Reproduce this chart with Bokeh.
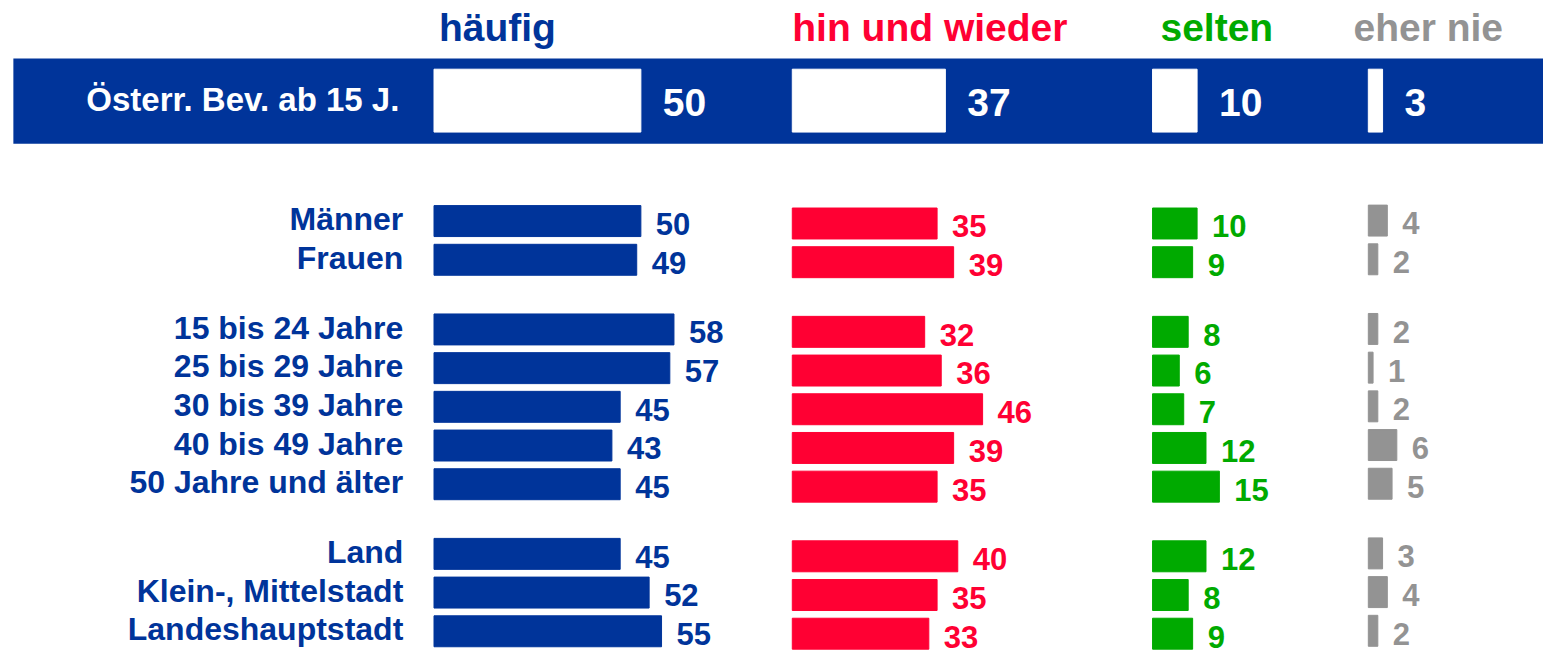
from bokeh.plotting import figure
from bokeh.models import Range1d, BoxAnnotation, ColumnDataSource
from bokeh.core.properties import value
from bokeh.embed import file_html
from bokeh.resources import INLINE

# ---------------- data ----------------
columns = ["häufig", "hin und wieder", "selten", "eher nie"]
total_label = "Österr. Bev. ab 15 J."
total = [50, 37, 10, 3]
categories = ["Männer", "Frauen",
              "15 bis 24 Jahre", "25 bis 29 Jahre", "30 bis 39 Jahre",
              "40 bis 49 Jahre", "50 Jahre und älter",
              "Land", "Klein-, Mittelstadt", "Landeshauptstadt"]
groups = [0, 0, 1, 1, 1, 1, 1, 2, 2, 2]
haeufig = [50, 49, 58, 57, 45, 43, 45, 45, 52, 55]
hin_und_wieder = [35, 39, 32, 36, 46, 39, 35, 40, 35, 33]
selten = [10, 9, 8, 6, 7, 12, 15, 12, 8, 9]
eher_nie = [4, 2, 2, 1, 2, 6, 5, 3, 4, 2]
series = [haeufig, hin_und_wieder, selten, eher_nie]
colors = ["#00349A", "#FF0033", "#00AA00", "#939393"]
banner_color = "#00349A"

# ---------------- layout (reference pixel space) ----------------
W, H = 1543, 654
RW, RH = 1559, 676
ROW0, PITCH, GAP = 228, 40, 32
col_start = [438, 800, 1164, 1382]
col_scale = [4.18, 4.18, 4.5, 4.8]
bar_dy = [0, 2.5, 2.5, -0.5]
header_x = [443, 800, 1172, 1367]
FONT = value("Liberation Sans")

rows_y = [ROW0 + i * PITCH + g * GAP for i, g in enumerate(groups)]

p = figure(width=W, height=H, output_backend="svg", toolbar_location=None,
           x_range=Range1d(0, RW), y_range=Range1d(RH, 0),
           x_axis_location=None, y_axis_location=None, min_border=0,
           outline_line_color=None, background_fill_color="white",
           border_fill_color="white")
p.grid.visible = False

names = ["c0", "c1", "c2", "c3"]
for n, c, s in zip(names, col_start, col_scale):
    p.extra_x_ranges[n] = Range1d(-c / s, (RW - c) / s)

# banner
p.add_layout(BoxAnnotation(left=13, top=60, bottom=148, fill_color=banner_color,
                           fill_alpha=1.0, line_color=None, level="underlay"))

p.text(x=[403], y=[102], text=[total_label], text_font=FONT, text_font_style="bold",
       text_font_size="33px", text_color="white", text_align="right",
       text_baseline="middle")

for k, n in enumerate(names):
    # header
    p.text(x=[header_x[k]], y=[28], text=[columns[k]], text_font=FONT,
           text_font_style="bold", text_font_size="39px", text_color=colors[k],
           text_align="left", text_baseline="middle")
    # banner bar
    p.hbar(y=[103.5], left=0, right=[total[k]], height=65, color="white",
           x_range_name=n)
    p.text(x=[total[k]], y=[105], text=[str(total[k])], x_offset=22,
           text_font=FONT, text_font_style="bold", text_font_size="39px",
           text_color="white", text_align="left", text_baseline="middle",
           x_range_name=n)
    # rows
    src = ColumnDataSource(dict(
        y=[y + bar_dy[k] for y in rows_y],
        ly=[y + bar_dy[k] + 3 for y in rows_y],
        v=series[k],
        t=[str(v) for v in series[k]],
    ))
    p.hbar(y="y", left=0, right="v", height=32, source=src, color=colors[k],
           x_range_name=n)
    p.text(x="v", y="ly", text="t", x_offset=15, source=src, text_font=FONT,
           text_font_style="bold", text_font_size="31px", text_color=colors[k],
           text_align="left", text_baseline="middle", x_range_name=n)

# category labels
p.text(x=[407] * len(categories), y=[y - 2 for y in rows_y], text=categories,
       text_font=FONT, text_font_style="bold", text_font_size="32px",
       text_color=colors[0], text_align="right", text_baseline="middle")

open("out.html", "w").write(file_html(p, INLINE))
